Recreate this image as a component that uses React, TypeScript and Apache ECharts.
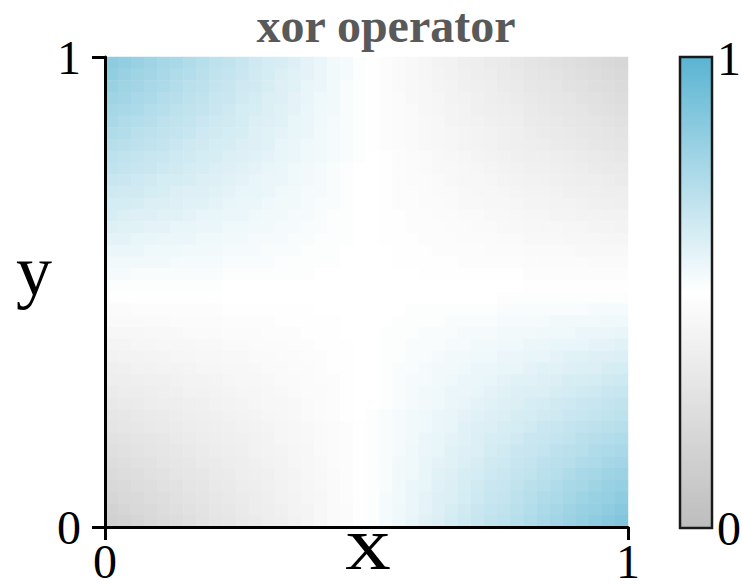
import React, { useEffect, useRef } from "react";
import * as echarts from "echarts";

// Cell centres along each axis (40 cells on [0, 1]).
const CELL_CENTERS = [
  "0.0125", "0.0375", "0.0625", "0.0875", "0.1125", "0.1375", "0.1625", "0.1875", "0.2125", "0.2375",
  "0.2625", "0.2875", "0.3125", "0.3375", "0.3625", "0.3875", "0.4125", "0.4375", "0.4625", "0.4875",
  "0.5125", "0.5375", "0.5625", "0.5875", "0.6125", "0.6375", "0.6625", "0.6875", "0.7125", "0.7375",
  "0.7625", "0.7875", "0.8125", "0.8375", "0.8625", "0.8875", "0.9125", "0.9375", "0.9625", "0.9875",
];

// xor operator output in percent; first row is the top of the square (y near 1),
// last row the bottom (y near 0); columns run from x near 0 to x near 1.
const FIELD_PCT = [
  [85,83,81,79,77,76,74,72,70,69,67,65,63,62,60,58,56,54,53,51,49,48,46,45,43,41,40,38,37,35,34,32,30,29,27,26,24,23,21,20],
  [83,81,79,78,76,74,73,71,69,68,66,64,63,61,59,58,56,54,53,51,49,48,46,45,43,42,40,39,37,36,34,33,31,30,29,27,26,24,23,21],
  [81,79,78,76,75,73,71,70,68,67,65,64,62,60,59,57,56,54,52,51,49,48,46,45,44,42,41,39,38,37,35,34,32,31,30,28,27,25,24,23],
  [79,78,76,75,73,72,70,69,67,66,64,63,61,60,58,57,55,54,52,51,49,48,47,45,44,43,41,40,39,37,36,35,33,32,31,30,28,27,26,24],
  [77,76,75,73,72,70,69,68,66,65,63,62,61,59,58,56,55,54,52,51,49,48,47,46,44,43,42,41,39,38,37,36,34,33,32,31,30,28,27,26],
  [76,74,73,72,70,69,68,66,65,64,63,61,60,59,57,56,55,53,52,51,49,48,47,46,45,44,42,41,40,39,38,37,35,34,33,32,31,30,29,27],
  [74,73,71,70,69,68,67,65,64,63,62,60,59,58,57,56,54,53,52,51,49,48,47,46,45,44,43,42,41,40,39,38,36,35,34,33,32,31,30,29],
  [72,71,70,69,68,66,65,64,63,62,61,60,59,57,56,55,54,53,52,51,49,48,47,46,45,44,43,42,41,40,39,38,37,36,35,34,33,32,31,30],
  [70,69,68,67,66,65,64,63,62,61,60,59,58,57,56,55,54,53,52,51,50,49,48,47,46,45,44,43,42,41,40,39,38,38,37,36,35,34,33,32],
  [69,68,67,66,65,64,63,62,61,60,59,58,57,56,55,54,53,52,51,50,50,49,48,47,46,45,45,44,43,42,41,40,39,39,38,37,36,35,34,34],
  [67,66,65,64,63,63,62,61,60,59,58,57,56,56,55,54,53,52,51,50,50,49,48,47,47,46,45,44,44,43,42,41,40,40,39,38,37,37,36,35],
  [65,64,64,63,62,61,60,60,59,58,57,57,56,55,54,53,53,52,51,50,50,49,48,48,47,46,46,45,44,44,43,42,41,41,40,39,39,38,37,37],
  [63,63,62,61,61,60,59,59,58,57,56,56,55,54,54,53,52,52,51,50,50,49,48,48,47,47,46,45,45,44,44,43,42,42,41,41,40,39,39,38],
  [62,61,60,60,59,59,58,57,57,56,56,55,54,54,53,53,52,51,51,50,50,49,49,48,48,47,47,46,46,45,45,44,43,43,42,42,41,41,40,40],
  [60,59,59,58,58,57,57,56,56,55,55,54,54,53,53,52,52,51,51,50,50,49,49,48,48,48,47,47,46,46,45,45,44,44,44,43,43,42,42,41],
  [58,58,57,57,56,56,56,55,55,54,54,53,53,53,52,52,51,51,51,50,50,49,49,49,48,48,48,47,47,47,46,46,45,45,45,44,44,44,43,43],
  [56,56,56,55,55,55,54,54,54,53,53,53,52,52,52,51,51,51,50,50,50,50,49,49,49,48,48,48,48,47,47,47,46,46,46,46,45,45,45,45],
  [54,54,54,54,54,53,53,53,53,52,52,52,52,51,51,51,51,51,50,50,50,50,49,49,49,49,49,48,48,48,48,48,47,47,47,47,47,46,46,46],
  [53,53,52,52,52,52,52,52,52,51,51,51,51,51,51,51,50,50,50,50,50,50,50,50,49,49,49,49,49,49,49,49,48,48,48,48,48,48,48,48],
  [51,51,51,51,51,51,51,51,51,50,50,50,50,50,50,50,50,50,50,50,50,50,50,50,50,50,50,50,50,50,50,50,49,49,49,49,49,49,49,49],
  [49,49,49,49,49,49,49,49,49,50,50,50,50,50,50,50,50,50,50,50,50,50,50,50,50,50,50,50,50,50,51,51,51,51,51,51,51,51,51,51],
  [47,47,48,48,48,48,48,48,48,49,49,49,49,49,49,49,50,50,50,50,50,50,50,51,51,51,51,51,51,51,52,52,52,52,52,52,52,53,53,53],
  [46,46,46,46,46,47,47,47,47,48,48,48,48,49,49,49,49,49,50,50,50,50,51,51,51,51,52,52,52,52,53,53,53,53,54,54,54,54,55,55],
  [44,44,44,45,45,45,46,46,46,47,47,47,48,48,48,49,49,49,50,50,50,51,51,51,52,52,52,53,53,53,54,54,54,55,55,55,56,56,56,57],
  [42,42,43,43,44,44,44,45,45,46,46,47,47,47,48,48,49,49,49,50,50,51,51,52,52,52,53,53,54,54,55,55,56,56,57,57,57,58,58,59],
  [40,41,41,42,42,43,43,44,44,45,45,46,46,47,47,48,48,49,49,50,50,51,51,52,52,53,54,54,55,55,56,56,57,57,58,59,59,60,60,61],
  [38,39,40,40,41,41,42,43,43,44,44,45,46,46,47,47,48,49,49,50,50,51,52,52,53,54,54,55,56,56,57,57,58,59,59,60,61,61,62,63],
  [37,37,38,39,39,40,41,41,42,43,44,44,45,46,46,47,48,48,49,50,50,51,52,53,53,54,55,56,56,57,58,59,59,60,61,62,62,63,64,65],
  [35,36,36,37,38,39,40,40,41,42,43,43,44,45,46,47,47,48,49,50,50,51,52,53,54,55,56,56,57,58,59,60,61,61,62,63,64,65,66,67],
  [33,34,35,36,37,37,38,39,40,41,42,43,44,44,45,46,47,48,49,50,50,51,52,53,54,55,56,57,58,59,60,61,62,63,64,65,66,67,68,69],
  [31,32,33,34,35,36,37,38,39,40,41,42,43,44,45,46,47,48,49,50,51,52,53,54,55,56,57,58,59,60,61,62,63,64,65,66,67,68,69,70],
  [30,31,32,33,34,35,36,37,38,39,40,41,42,43,44,45,46,47,48,49,51,52,53,54,55,56,57,59,60,61,62,63,64,66,67,68,69,70,71,72],
  [28,29,30,31,32,34,35,36,37,38,39,40,41,43,44,45,46,47,48,49,51,52,53,54,56,57,58,59,61,62,63,64,66,67,68,69,71,72,73,74],
  [26,27,29,30,31,32,33,35,36,37,38,40,41,42,43,44,46,47,48,49,51,52,53,55,56,57,59,60,61,63,64,66,67,68,70,71,72,74,75,76],
  [24,26,27,28,30,31,32,34,35,36,37,39,40,41,43,44,45,47,48,49,51,52,54,55,57,58,59,61,62,64,65,67,68,70,71,72,74,75,77,78],
  [23,24,25,27,28,30,31,32,34,35,37,38,39,41,42,44,45,46,48,49,51,52,54,55,57,59,60,62,63,65,66,68,69,71,72,74,76,77,79,80],
  [21,22,24,25,27,28,30,31,33,34,36,37,39,40,42,43,45,46,48,49,51,52,54,56,57,59,61,62,64,66,67,69,71,72,74,76,77,79,81,82],
  [19,21,22,24,25,27,29,30,32,33,35,36,38,40,41,43,44,46,48,49,51,53,54,56,58,60,61,63,65,67,68,70,72,74,75,77,79,81,82,84],
  [17,19,21,22,24,26,27,29,31,32,34,36,37,39,41,42,44,46,47,49,51,53,55,56,58,60,62,64,66,68,69,71,73,75,77,79,81,82,84,86],
  [15,17,19,21,23,24,26,28,30,31,33,35,37,38,40,42,44,46,47,49,51,53,55,57,59,61,63,65,67,69,70,72,74,76,78,80,82,84,86,88],
];

// Axis ticks, colour-bar labels and the grey-white-blue colour map.
const TICK_VALUES = [0, 1];
const COLORBAR_TICKS = ["1", "0"];
const CMAP = ["#bdbdbd", "#ffffff", "#5ab4d2"];

const TITLE = "xor operator";
const X_NAME = "x";
const Y_NAME = "y";

const SERIF = "Liberation Serif";

export default function App() {
  const ref = useRef<HTMLDivElement | null>(null);

  useEffect(() => {
    if (!ref.current) return;
    const chart = echarts.init(ref.current, null, { renderer: "svg" });

    const nRows = FIELD_PCT.length;
    const cells: [number, number, number][] = [];
    FIELD_PCT.forEach((row, r) => {
      row.forEach((pct, c) => {
        cells.push([c, nRows - 1 - r, pct / 100]);
      });
    });

    const gridLeft = 105;
    const gridTop = 57;
    const gridW = 523;
    const gridH = 470;

    const valueAxisCommon = {
      type: "value" as const,
      min: TICK_VALUES[0],
      max: TICK_VALUES[TICK_VALUES.length - 1],
      interval: 1,
      z: 10,
      splitLine: { show: false },
      axisLine: { show: true, lineStyle: { color: "#000", width: 3 } },
      axisTick: { show: true, length: 13, lineStyle: { color: "#000", width: 3 } },
    };

    const tickFont = {
      show: true,
      fontFamily: SERIF,
      fontSize: 48,
      color: "#000",
    };

    chart.setOption({
      animation: false,
      backgroundColor: "#ffffff",
      grid: { left: gridLeft, top: gridTop, width: gridW, height: gridH, containLabel: false },
      xAxis: [
        { type: "category", data: CELL_CENTERS, show: false, position: "top", boundaryGap: true },
        { ...valueAxisCommon, position: "bottom", axisLabel: { ...tickFont, margin: 10 } },
      ],
      yAxis: [
        { type: "category", data: CELL_CENTERS, show: false, position: "right", boundaryGap: true },
        { ...valueAxisCommon, position: "left", axisLabel: { ...tickFont, margin: 24 } },
      ],
      visualMap: {
        type: "continuous",
        min: 0,
        max: 1,
        calculable: false,
        orient: "vertical",
        left: 680,
        top: 57,
        padding: 0,
        itemWidth: 32,
        itemHeight: 471,
        inRange: { color: CMAP },
        seriesIndex: 0,
        hoverLink: false,
      },
      series: [
        {
          type: "heatmap",
          xAxisIndex: 0,
          yAxisIndex: 0,
          data: cells,
          silent: true,
          itemStyle: { borderWidth: 0 },
          emphasis: { disabled: true },
        },
      ],
      graphic: [
        {
          type: "rect",
          shape: { x: 680, y: 57, width: 32, height: 471 },
          style: { fill: "none", stroke: "#1a1a1a", lineWidth: 2.5 },
          z: 100,
        },
        {
          type: "text",
          x: 741,
          y: 58,
          style: {
            text: COLORBAR_TICKS[0],
            fontFamily: SERIF,
            fontSize: 48,
            fill: "#000",
            align: "right",
            verticalAlign: "middle",
          },
        },
        {
          type: "text",
          x: 741,
          y: 528,
          style: {
            text: COLORBAR_TICKS[1],
            fontFamily: SERIF,
            fontSize: 48,
            fill: "#000",
            align: "right",
            verticalAlign: "middle",
          },
        },
        {
          type: "text",
          x: 386,
          y: 25,
          style: {
            text: TITLE,
            fontFamily: SERIF,
            fontWeight: "bold",
            fontSize: 48,
            lineHeight: 44,
            fill: "#595959",
            align: "center",
            verticalAlign: "middle",
          },
        },
        {
          type: "text",
          x: 368,
          y: 543,
          scaleX: 1.2,
          style: {
            text: X_NAME,
            fontFamily: SERIF,
            fontSize: 76,
            lineHeight: 40,
            fill: "#000",
            align: "center",
            verticalAlign: "middle",
          },
        },
        {
          type: "text",
          x: 34,
          y: 271,
          style: {
            text: Y_NAME,
            fontFamily: SERIF,
            fontSize: 72,
            fill: "#000",
            align: "center",
            verticalAlign: "middle",
          },
        },
      ],
    });

    return () => {
      chart.dispose();
    };
  }, []);

  return (
    <div
      ref={ref}
      style={{ position: "fixed", left: 0, top: 0, width: 742, height: 586 }}
    />
  );
}
